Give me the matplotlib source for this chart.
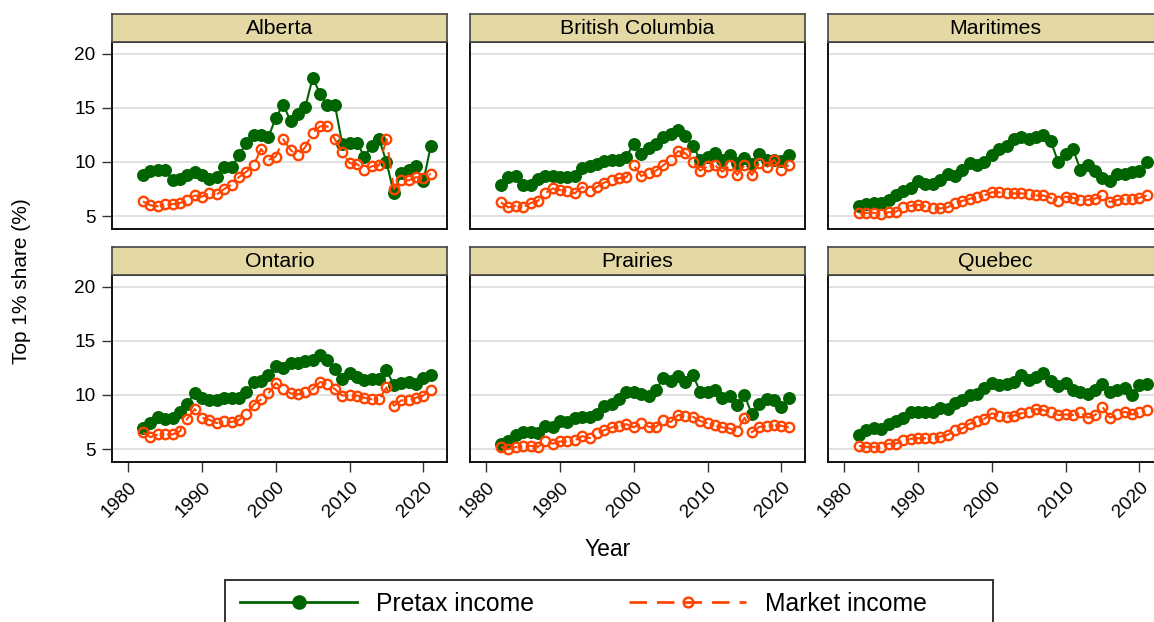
import numpy as np
import matplotlib
matplotlib.use("Agg")
import matplotlib.pyplot as plt
from matplotlib.lines import Line2D
from matplotlib.patches import Rectangle

plt.rcParams['font.family'] = ['Liberation Sans', 'DejaVu Sans']

# values, 1982-2021
years = np.arange(1982, 2022)

regions = ["Alberta", "British Columbia", "Maritimes", "Ontario", "Prairies", "Quebec"]

pretax_alberta = [8.8, 9.2, 9.3, 9.3, 8.3, 8.4, 8.8, 9.1, 8.8, 8.4,
                  8.6, 9.5, 9.5, 10.6, 11.8, 12.5, 12.5, 12.3, 14.1, 15.3,
                  13.8, 14.4, 15.1, 17.8, 16.3, 15.3, 15.3, 11.7, 11.8, 11.8,
                  10.5, 11.5, 12.1, 10.0, 7.1, 9.0, 9.3, 9.6, 8.2, 11.5]
market_alberta = [6.35, 6.0, 5.9, 6.1, 6.1, 6.2, 6.5, 6.9, 6.8, 7.1,
                  7.0, 7.5, 7.9, 8.6, 9.1, 9.7, 11.2, 10.2, 10.5, 12.1,
                  11.1, 10.6, 11.4, 12.7, 13.3, 13.3, 12.1, 10.9, 9.9, 9.8,
                  9.3, 9.6, 9.7, 12.1, 7.5, 8.3, 8.3, 8.6, 8.5, 8.9]

pretax_bc = [7.9, 8.65, 8.7, 7.9, 7.9, 8.4, 8.7, 8.7, 8.6, 8.6,
             8.7, 9.4, 9.6, 9.8, 10.1, 10.2, 10.2, 10.5, 11.7, 10.7,
             11.3, 11.7, 12.3, 12.6, 13.0, 12.4, 11.5, 10.2, 10.5, 10.8,
             10.2, 10.6, 9.9, 10.4, 9.8, 10.7, 10.2, 10.2, 10.1, 10.6]
market_bc = [6.26, 5.8, 5.95, 5.8, 6.2, 6.4, 7.1, 7.55, 7.4, 7.3,
             7.1, 7.7, 7.3, 7.7, 8.1, 8.3, 8.5, 8.6, 9.7, 8.7,
             9.0, 9.2, 9.7, 10.2, 11.0, 10.8, 10.0, 9.2, 9.6, 9.7,
             9.1, 9.7, 8.8, 9.7, 8.8, 9.9, 9.5, 10.2, 9.3, 9.7]

pretax_maritimes = [5.95, 6.1, 6.2, 6.25, 6.5, 6.9, 7.3, 7.55, 8.25, 8.0,
                    8.0, 8.35, 8.9, 8.7, 9.3, 9.9, 9.7, 10.0, 10.6, 11.2,
                    11.5, 12.1, 12.3, 12.15, 12.3, 12.5, 11.9, 10.0, 10.7, 11.2,
                    9.3, 9.7, 9.2, 8.5, 8.25, 8.9, 8.9, 9.1, 9.2, 10.0]
market_maritimes = [5.3, 5.3, 5.3, 5.2, 5.35, 5.4, 5.8, 5.95, 6.05, 5.9,
                    5.7, 5.7, 5.8, 6.2, 6.4, 6.6, 6.8, 6.9, 7.2, 7.2,
                    7.1, 7.1, 7.1, 7.0, 6.9, 6.9, 6.7, 6.4, 6.8, 6.7,
                    6.5, 6.5, 6.6, 6.9, 6.3, 6.5, 6.6, 6.6, 6.7, 6.9]

pretax_ontario = [6.9, 7.4, 8.0, 7.8, 7.9, 8.4, 9.2, 10.15, 9.75, 9.5,
                  9.5, 9.75, 9.75, 9.75, 10.3, 11.2, 11.3, 11.85, 12.7, 12.5,
                  13.0, 13.0, 13.1, 13.25, 13.7, 13.25, 12.4, 11.5, 12.0, 11.7,
                  11.4, 11.5, 11.5, 12.3, 10.9, 11.1, 11.2, 11.0, 11.6, 11.85]
market_ontario = [6.55, 6.1, 6.35, 6.35, 6.35, 6.65, 7.8, 8.7, 7.9, 7.7,
                  7.4, 7.6, 7.5, 7.7, 8.2, 9.1, 9.6, 10.15, 11.1, 10.55,
                  10.15, 10.05, 10.3, 10.55, 11.2, 11.0, 10.55, 9.95, 10.0, 9.95,
                  9.75, 9.6, 9.6, 10.7, 9.0, 9.5, 9.5, 9.75, 9.95, 10.5]

pretax_prairies = [5.5, 5.7, 6.3, 6.55, 6.55, 6.45, 7.15, 7.05, 7.6, 7.5,
                   7.9, 8.0, 8.0, 8.2, 9.0, 9.2, 9.6, 10.25, 10.25, 10.05,
                   9.95, 10.45, 11.6, 11.3, 11.8, 11.2, 11.85, 10.3, 10.25, 10.45,
                   9.75, 9.95, 9.1, 10.0, 8.2, 9.2, 9.6, 9.5, 8.9, 9.7]
market_prairies = [5.2, 5.0, 5.2, 5.3, 5.3, 5.2, 5.7, 5.5, 5.7, 5.7,
                   5.8, 6.2, 6.0, 6.45, 6.75, 7.0, 7.15, 7.3, 7.0, 7.45,
                   7.05, 7.05, 7.7, 7.5, 8.15, 8.1, 8.0, 7.6, 7.4, 7.2,
                   7.0, 6.9, 6.65, 7.9, 6.55, 7.05, 7.15, 7.2, 7.15, 7.0]

pretax_quebec = [6.3, 6.75, 6.95, 6.85, 7.35, 7.6, 7.9, 8.45, 8.4, 8.4,
                 8.4, 8.8, 8.7, 9.3, 9.5, 10.0, 10.05, 10.6, 11.1, 10.9,
                 11.0, 11.2, 11.85, 11.4, 11.7, 12.0, 11.3, 10.85, 11.1, 10.45,
                 10.3, 10.05, 10.45, 11.0, 10.25, 10.45, 10.6, 10.0, 10.9, 11.0]
market_quebec = [5.3, 5.2, 5.2, 5.2, 5.5, 5.5, 5.8, 5.95, 6.0, 6.0,
                 6.0, 6.15, 6.3, 6.75, 6.9, 7.35, 7.6, 7.8, 8.3, 8.1,
                 8.0, 8.1, 8.3, 8.4, 8.7, 8.6, 8.4, 8.15, 8.2, 8.15,
                 8.4, 7.9, 8.15, 8.9, 7.9, 8.2, 8.45, 8.2, 8.4, 8.6]

pretax = [pretax_alberta, pretax_bc, pretax_maritimes,
          pretax_ontario, pretax_prairies, pretax_quebec]
market = [market_alberta, market_bc, market_maritimes,
          market_ontario, market_prairies, market_quebec]

yticks = [5, 10, 15, 20]
xticks = [1980, 1990, 2000, 2010, 2020]

green = '#006400'
orange = '#FF4500'
strip_color = '#E4D8A5'
dash = (0, (8, 4.5))

W, H = 1154, 622
fig = plt.figure(figsize=(W / 100, H / 100), dpi=100)


def fig_box(x, y_top, w, h):
    # pixel box (top-left origin) -> figure fraction
    return [x / W, 1 - (y_top + h) / H, w / W, h / H]


col_left = [112, 470, 828]
row_top = [42, 275]
pw, ph, sh = 335, 187, 28

for i, name in enumerate(regions):
    r, c = divmod(i, 3)
    ax = fig.add_axes(fig_box(col_left[c], row_top[r], pw, ph))
    ax.set_xlim(1977.8, 2023.2)
    ax.set_ylim(3.8, 21.1)
    for y in yticks:
        ax.axhline(y, color='#DEDEDE', lw=1.3, zorder=0)
    ax.plot(years, pretax[i], color=green, lw=1.5, marker='o', ms=8.3,
            mfc=green, mec=green, zorder=2)
    ax.plot(years, market[i], color=orange, lw=1.5, linestyle=dash,
            marker='o', ms=6.8, mfc='none', mec=orange, mew=1.7, zorder=3)
    for s in ax.spines.values():
        s.set_linewidth(1.4)
        s.set_color('#111111')
    ax.set_yticks(yticks)
    ax.set_xticks(xticks)
    ax.tick_params(axis='both', length=7, width=1, color='#333333',
                   labelsize=13.7, pad=5)
    if c != 0:
        ax.tick_params(axis='y', left=False, labelleft=False)
    if r == 0:
        ax.tick_params(axis='x', bottom=False, labelbottom=False)
    else:
        for lab in ax.get_xticklabels():
            lab.set_rotation(45)
            lab.set_ha('right')
            lab.set_va('top')
            lab.set_rotation_mode('anchor')

    strip = fig.add_axes(fig_box(col_left[c], row_top[r] - sh, pw, sh))
    strip.set_facecolor(strip_color)
    strip.set_xticks([])
    strip.set_yticks([])
    for s in strip.spines.values():
        s.set_linewidth(1.2)
        s.set_color('#444444')
    strip.text(0.5, 0.48, name, ha='center', va='center', fontsize=15.3,
               transform=strip.transAxes)

fig.text(22 / W, 1 - 281 / H, 'Top 1% share (%)', rotation=90,
         ha='center', va='center', fontsize=15)
fig.text(608 / W, 1 - 549 / H, 'Year', ha='center', va='center', fontsize=16.5)

# legend frame runs off the bottom edge of the picture
fig.patches.append(Rectangle((225 / W, 1 - 660 / H), 768 / W, 80 / H,
                             transform=fig.transFigure, fill=False,
                             edgecolor='#333333', lw=1.4))

handles = [
    Line2D([], [], color=green, lw=2, marker='o', ms=9.5, mfc=green, mec=green),
    Line2D([], [], color=orange, lw=2, linestyle=(0, (6.3, 3.6)),
           marker='o', ms=7, mfc='none', mec=orange, mew=1.8),
]
fig.legend(handles, ['Pretax income', 'Market income'], ncol=2,
           loc='upper left', bbox_to_anchor=(240 / W, 1 - 592 / H),
           frameon=False, fontsize=17.8, borderpad=0, borderaxespad=0,
           handlelength=4.74, handletextpad=0.77, columnspacing=3.84)

fig.savefig('out.png', dpi=100)
